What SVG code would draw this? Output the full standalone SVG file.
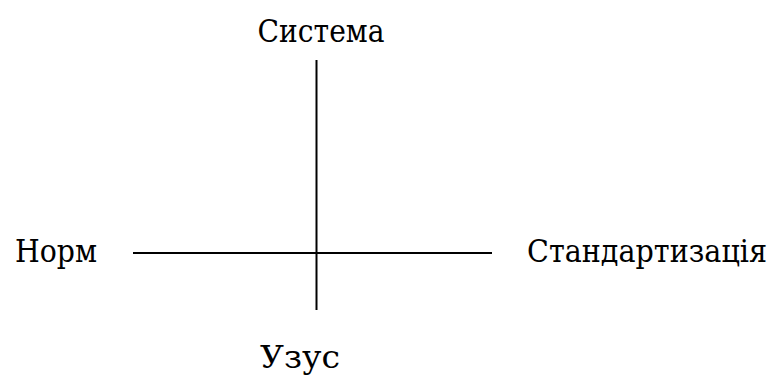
<svg xmlns="http://www.w3.org/2000/svg" width="776" height="376" viewBox="0 0 776 376">
<style>
.t{font-family:"DejaVu Serif","Liberation Serif",serif;font-size:31.5px;fill:#000}
.c line{stroke:#000;stroke-width:2}
</style>
<rect width="776" height="376" fill="#fff"/>
<g class="c" id="connectors">
<line x1="316.5" y1="60" x2="316.5" y2="310"/>
<line x1="133" y1="253" x2="492" y2="253"/>
</g>
<g id="n-sistema"><text class="t" x="257.5" y="42" textLength="127" lengthAdjust="spacingAndGlyphs">Система</text></g>
<g id="n-norm"><text class="t" x="15" y="262" textLength="82" lengthAdjust="spacingAndGlyphs">Норм</text></g>
<g id="n-standart"><text class="t" x="527" y="262" textLength="240" lengthAdjust="spacingAndGlyphs">Стандартизація</text></g>
<g id="n-uzus"><text class="t" x="260" y="368" textLength="80" lengthAdjust="spacingAndGlyphs">Узус</text></g>
</svg>
